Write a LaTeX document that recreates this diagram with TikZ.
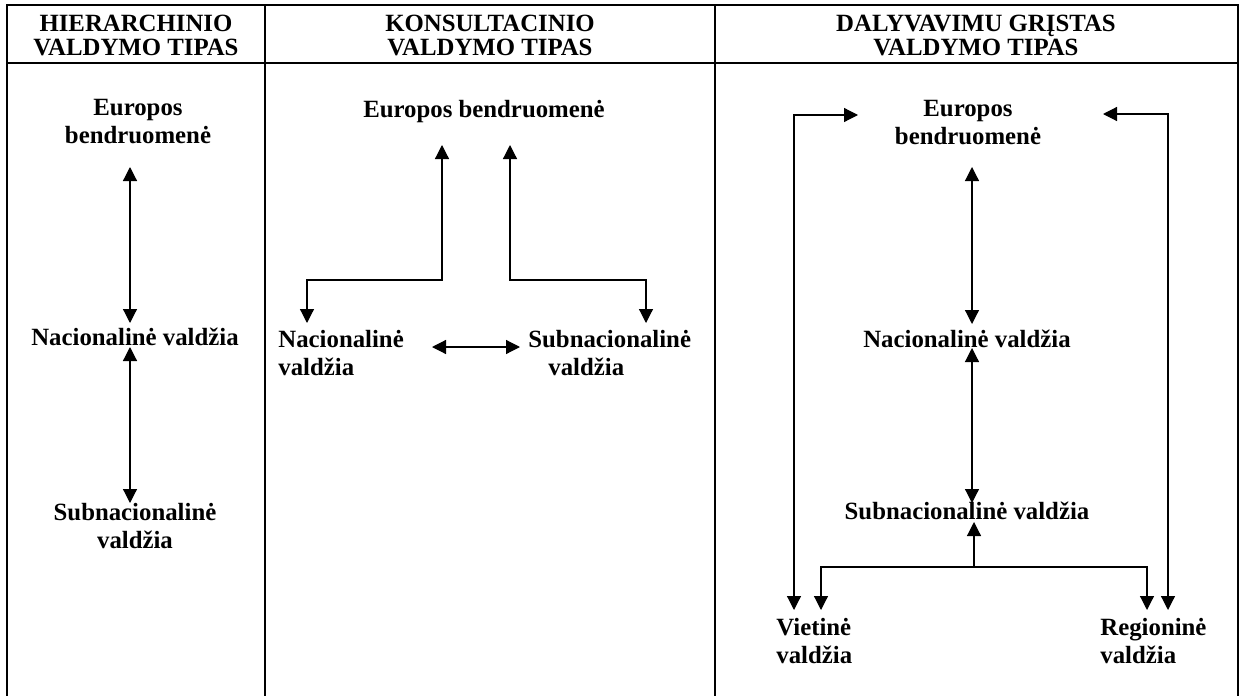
\documentclass[tikz,border=0pt]{standalone}
\usepackage{fontspec}
\setmainfont{Liberation Serif}
\usetikzlibrary{arrows.meta}

\begin{document}
\begin{tikzpicture}[x=0.5pt,y=-0.5pt,
  lbl/.style={font=\bfseries\fontsize{12.4}{14}\selectfont,inner sep=0pt,anchor=base},
  hdr/.style={font=\bfseries\fontsize{12.4}{12}\selectfont,inner sep=0pt,align=center,anchor=base},
  arr/.style={-{Triangle[length=7pt,width=7pt]},line width=0.6pt},
  dbl/.style={{Triangle[length=7pt,width=7pt]}-{Triangle[length=7pt,width=7pt]},line width=0.6pt}]
 \useasboundingbox (0,0) rectangle (1243,696);
 % table
 \draw[line width=1pt] (7,696)--(7,5)--(1238,5)--(1238,696);
 \draw[line width=1pt] (265,5)--(265,696);
 \draw[line width=1pt] (715,5)--(715,696);
 \draw[line width=0.7pt] (7,63)--(1238,63);
 \node[hdr] (h1) at (136,55) {HIERARCHINIO\\VALDYMO TIPAS};
 \node[hdr] (h2) at (490,55) {KONSULTACINIO\\VALDYMO TIPAS};
 \node[hdr] (h3) at (976,55) {DALYVAVIMU GRĮSTAS\\VALDYMO TIPAS};
 % hierarchinis
 \node[lbl,align=center] (eb1) at (138,143) {Europos\\bendruomenė};
 \node[lbl] (nv1) at (135,345) {Nacionalinė valdžia};
 \node[lbl,align=center] (sv1) at (135,548) {Subnacionalinė\\valdžia};
 \coordinate (eb1a) at (130,167);
 \coordinate (nv1a) at (130,323);
 \coordinate (nv1b) at (130,347);
 \coordinate (sv1a) at (130,503);
 \draw[dbl] (eb1a)--(nv1a);
 \draw[dbl] (nv1b)--(sv1a);
 % konsultacinis
 \node[lbl] (eb2) at (484,117) {Europos bendruomenė};
 \node[lbl,align=left,anchor=base west] (nv2) at (278,375) {Nacionalinė\\valdžia};
 \node[lbl,align=left,anchor=base west] (sv2) at (528,375) {Subnacionalinė\\\hspace*{10pt}valdžia};
 \coordinate (eb2l) at (442,145);
 \coordinate (eb2r) at (510,145);
 \coordinate (nv2a) at (307,323);
 \coordinate (sv2a) at (646,323);
 \coordinate (jn2l) at (442,280);
 \coordinate (jn2r) at (646,280);
 \draw[dbl] (nv2a) |- (jn2l) -- (eb2l);
 \draw[dbl] (eb2r) |- (jn2r) -- (sv2a);
 \coordinate (nv2b) at (432,347);
 \coordinate (sv2b) at (520,347);
 \draw[dbl] (nv2b)--(sv2b);
 % dalyvavimu grindziamas
 \node[lbl,align=center] (eb3) at (968,144) {Europos\\bendruomenė};
 \node[lbl] (nv3) at (967,347) {Nacionalinė valdžia};
 \node[lbl] (sv3) at (967,519) {Subnacionalinė valdžia};
 \node[lbl,align=left,anchor=base west] (vv3) at (776,663) {Vietinė\\valdžia};
 \node[lbl,align=left,anchor=base west] (rv3) at (1100,663) {Regioninė\\valdžia};
 \coordinate (eb3a) at (972,167);
 \coordinate (nv3a) at (972,324);
 \coordinate (nv3b) at (972,348);
 \coordinate (sv3a) at (972,503);
 \draw[dbl] (eb3a)--(nv3a);
 \draw[dbl] (nv3b)--(sv3a);
 \coordinate (jn3) at (974,567);
 \coordinate (sv3b) at (974,522);
 \coordinate (vv3a) at (821,610);
 \coordinate (rv3a) at (1147,610);
 \draw[arr] (jn3)--(sv3b);
 \draw[arr] (jn3) -| (vv3a);
 \draw[arr] (jn3) -| (rv3a);
 \coordinate (eb3l) at (858,115);
 \coordinate (eb3r) at (1103,114);
 \coordinate (vv3b) at (794,610);
 \coordinate (rv3b) at (1168,610);
 \draw[dbl] (eb3l) -| (vv3b);
 \draw[dbl] (eb3r) -| (rv3b);
\end{tikzpicture}
\end{document}
